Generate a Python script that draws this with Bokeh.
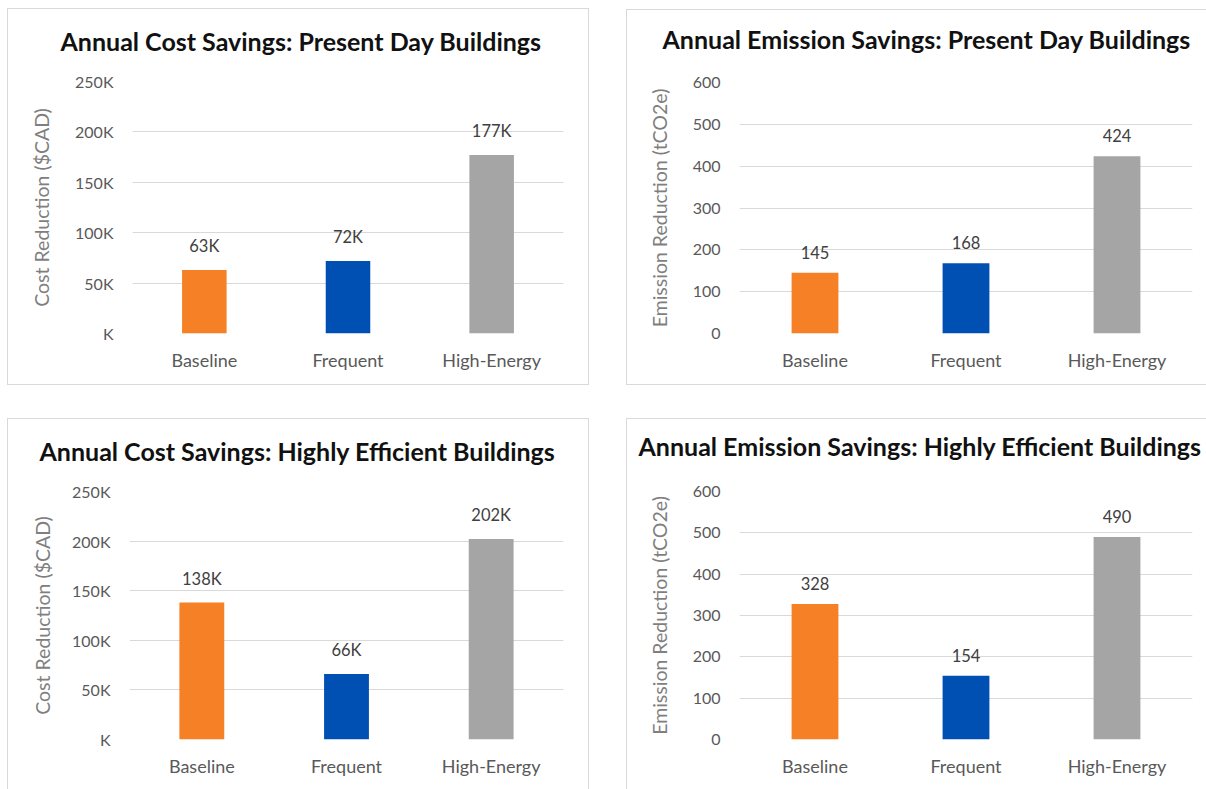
from bokeh.plotting import figure
from bokeh.models import ColumnDataSource, Range1d, FactorRange, FixedTicker
from bokeh.layouts import column, row
from bokeh.embed import file_html
from bokeh.resources import INLINE
from bokeh.core.properties import value

# --- data -------------------------------------------------------------
scenarios = ["Baseline", "Frequent", "High-Energy"]
bar_colors = ["#F58025", "#0050B4", "#A5A5A5"]

cost_present_k = [63, 72, 177]          # thousand $CAD
cost_efficient_k = [138, 66, 202]       # thousand $CAD
emission_present = [145, 168, 424]      # tCO2e
emission_efficient = [328, 154, 490]    # tCO2e

cost_ticks = [0, 50, 100, 150, 200, 250]
cost_tick_labels = ["K", "50K", "100K", "150K", "200K", "250K"]
emission_ticks = [0, 100, 200, 300, 400, 500, 600]
emission_tick_labels = ["0", "100", "200", "300", "400", "500", "600"]

FONT = "Lato"
GRID = "#D9D9D9"


def make_panel(title, values, label_fmt, ticks, tick_labels, ylabel,
               box, borders, frame, title_shift, title_lift, ylabel_gap, margin):
    """box = (left, top, width, height) of the chart area on the page,
    frame = (left, right, top, bottom) of the plotting area on the page."""
    bl, bt, bw, bh = box
    fl, fr, ft, fb = frame
    p = figure(width=bw, height=bh, output_backend="svg", toolbar_location=None,
               x_range=FactorRange(*scenarios, range_padding=0),
               y_range=Range1d(ticks[0], ticks[-1]),
               min_border_left=fl - bl, min_border_right=bl + bw - fr,
               min_border_top=ft - bt, min_border_bottom=bt + bh - fb,
               margin=margin)
    p.outline_line_color = None
    p.background_fill_color = "white"
    p.border_fill_color = "white"
    css = {}
    for side in ("top", "right", "bottom", "left"):
        css[f"border-{side}"] = f"1px solid {GRID}" if side in borders else "none"
    css["box-sizing"] = "border-box"
    p.styles = css

    src = ColumnDataSource(dict(
        cat=scenarios, val=values, color=bar_colors,
        label=[label_fmt(v) for v in values]))
    p.vbar(x="cat", top="val", width=0.31, bottom=0, color="color",
           line_color=None, source=src)
    p.text(x="cat", y="val", text="label", source=src, y_offset=-14,
           text_align="center", text_baseline="bottom",
           text_font=value(FONT), text_font_size="16.5px", text_color="#404040")

    # chart title, placed over the whole chart area rather than the frame
    p.title.text = title
    p.title.align = "left"
    p.title.vertical_align = "bottom"
    p.title.offset = title_shift
    p.title.standoff = 0
    p.title.padding = dict(left=0, right=0, top=0, bottom=title_lift)
    p.title.text_font = FONT
    p.title.text_font_style = "bold"
    p.title.text_font_size = "25px"
    p.title.text_color = "#111111"

    p.xgrid.visible = False
    p.ygrid.ticker = FixedTicker(ticks=ticks)
    p.ygrid.grid_line_color = GRID
    p.ygrid.grid_line_width = 1

    ya = p.yaxis[0]
    ya.ticker = FixedTicker(ticks=ticks)
    ya.major_label_overrides = dict(zip(ticks, tick_labels))
    ya.axis_line_color = None
    ya.major_tick_line_color = None
    ya.minor_tick_line_color = None
    ya.major_label_standoff = 13
    ya.major_label_text_font = FONT
    ya.major_label_text_font_size = "16px"
    ya.major_label_text_color = "#595959"
    ya.axis_label = ylabel
    ya.axis_label_text_font = FONT
    ya.axis_label_text_font_size = "19.5px"
    ya.axis_label_text_font_style = "normal"
    ya.axis_label_text_color = "#7F7F7F"
    ya.axis_label_standoff = ylabel_gap

    xa = p.xaxis[0]
    xa.axis_line_color = None
    xa.major_tick_line_color = None
    xa.minor_tick_line_color = None
    xa.major_label_standoff = 9
    xa.major_label_text_font = FONT
    xa.major_label_text_font_size = "18px"
    xa.major_label_text_color = "#595959"
    return p


def k_label(v):
    return f"{v}K"


p1 = make_panel("Annual Cost Savings: Present Day Buildings", cost_present_k, k_label,
                cost_ticks, cost_tick_labels, "Cost Reduction ($CAD)",
                box=(7, 8, 582, 377), borders=("top", "right", "bottom", "left"),
                frame=(131, 562, 80, 332), title_shift=-72, title_lift=26,
                ylabel_gap=19, margin=(8, 0, 0, 7))
p2 = make_panel("Annual Emission Savings: Present Day Buildings", emission_present, str,
                emission_ticks, emission_tick_labels, "Emission Reduction (tCO2e)",
                box=(626, 9, 580, 376), borders=("top", "bottom", "left"),
                frame=(738, 1191, 78, 332), title_shift=-77, title_lift=29,
                ylabel_gap=19, margin=(9, 0, 0, 37))
p3 = make_panel("Annual Cost Savings: Highly Efficient Buildings", cost_efficient_k, k_label,
                cost_ticks, cost_tick_labels, "Cost Reduction ($CAD)",
                box=(7, 418, 582, 371), borders=("top", "right", "left"),
                frame=(128, 562, 490, 738), title_shift=-90, title_lift=26,
                ylabel_gap=15, margin=(33, 0, 0, 7))
p4 = make_panel("Annual Emission Savings: Highly Efficient Buildings", emission_efficient, str,
                emission_ticks, emission_tick_labels, "Emission Reduction (tCO2e)",
                box=(626, 418, 580, 371), borders=("top", "left"),
                frame=(738, 1191, 486, 738), title_shift=-101, title_lift=31,
                ylabel_gap=19, margin=(33, 0, 0, 37))

layout = column(row(p1, p2), row(p3, p4))
open("out.html", "w").write(file_html(layout, INLINE))
